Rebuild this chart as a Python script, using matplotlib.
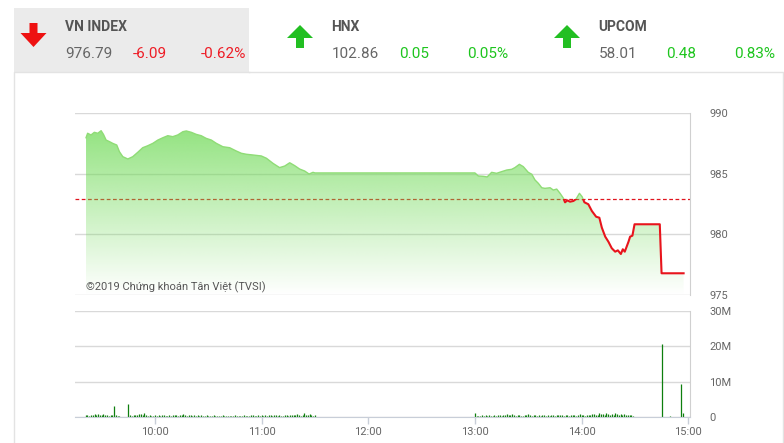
import numpy as np
import matplotlib.pyplot as plt
from matplotlib.patches import Rectangle, Polygon
from matplotlib.colors import to_rgb

plt.rcParams['font.family'] = ['Roboto', 'DejaVu Sans']

# --- bảng chỉ số phía trên ---
san = ['VN INDEX', 'HNX', 'UPCOM']
diem = ['976.79', '102.86', '58.01']
thay_doi = ['-6.09', '0.05', '0.48']
phan_tram = ['-0.62%', '0.05%', '0.83%']
tang_giam = [-1, 1, 1]

tham_chieu = 982.88

# --- diễn biến VN-Index (phút tính từ 9:00) ---
gio_gia = [21.2, 22.1, 24.0, 25.9, 27.8, 29.7, 31.0, 32.5, 34.4, 36.2,
           38.5, 40.0, 41.9, 44.7, 47.5, 50.3, 53.1, 55.9, 58.8, 61.6,
           64.4, 67.2, 70.0, 72.8, 75.7, 77.6, 80.4, 83.2, 86.0, 88.8,
           91.7, 94.5, 98.2, 102.0, 105.7, 108.6, 111.4, 115.1, 119.8, 122.7,
           126.4, 130.1, 133.0, 135.8, 138.6, 141.4, 144.2, 146.7, 148.9, 150.0,
           240.0, 241.9, 244.7, 246.9, 249.4, 252.2, 255.1, 257.9, 260.7, 262.5,
           265.0, 267.2, 270.0, 272.0, 273.8, 275.7, 277.6, 279.4, 282.3, 284.1,
           286.0, 287.9, 289.8, 290.7, 292.0, 293.5, 295.4, 296.9, 298.8, 300.3,
           301.6, 303.8, 305.8, 308.2, 310.0, 311.4, 313.3, 315.1, 317.0, 318.9,
           320.4, 322.1, 323.2, 324.3, 326.4, 327.3, 328.6, 329.8, 344.0, 345.0,
           357.4]
gia = [987.96, 988.33, 988.19, 988.41, 988.33, 988.54, 988.24, 987.77, 987.64, 987.50,
       987.36, 986.81, 986.40, 986.21, 986.40, 986.76, 987.14, 987.30, 987.50, 987.77,
       987.96, 988.13, 988.05, 988.19, 988.46, 988.52, 988.41, 988.24, 988.13, 987.91,
       987.77, 987.50, 987.22, 987.14, 986.87, 986.68, 986.60, 986.54, 986.46, 986.27,
       985.85, 985.50, 985.63, 985.90, 985.66, 985.38, 985.22, 984.97, 985.11, 985.06,
       985.06, 984.81, 984.78, 984.73, 985.11, 985.03, 985.17, 985.30, 985.36, 985.50,
       985.77, 985.58, 985.11, 984.95, 984.48, 984.20, 983.84, 983.79, 983.84, 983.65,
       983.73, 983.38, 982.97, 982.64, 982.80, 982.69, 982.75, 982.91, 983.38, 983.10,
       982.64, 982.48, 981.92, 981.45, 981.37, 980.55, 979.81, 979.39, 978.85, 978.57,
       978.68, 978.38, 978.77, 978.57, 979.39, 979.81, 979.89, 980.83, 980.83, 976.79,
       976.79]

# --- khối lượng (triệu cp) ---
gio_kl_sang = list(range(21, 151))
kl_sang = [0.5, 0.6, 0.4, 0.7, 0.6, 0.8, 0.5, 0.9, 0.7, 0.6, 0.8, 0.5, 0.6, 0.4, 0.7, 0.5, 3.0, 0.6, 0.4, 0.3,
           0, 0, 0, 0,
           3.6, 0.5, 0.4, 0.6, 0.7, 0.5, 0.8, 0.9, 0.6, 1.0, 0.5, 0.4, 0.6, 0.3, 0.4, 0.5,
           0.3, 0.5, 0.4, 0.6, 0.7, 0.4, 0.3, 0.5, 0.4, 0.6, 0.5, 0.7, 0.4, 0.5, 0.6, 0.8, 0.5, 0.4, 0.6, 0.5,
           0.4, 0.5, 0.3, 0.6, 0.4, 0.5, 0.3, 0.4, 0.5, 0.3, 0.4, 0.3, 0.5, 0.4, 0.3, 0.4, 0.3, 0.5, 0.3, 0.4,
           0.3, 0.4, 0.3, 0.3, 0.5, 0.4, 0.3, 0.4, 0.3, 0.5, 0.4, 0.3, 0.4, 0.5, 0.6, 0.4, 0.3, 0.5, 0.4, 0.6,
           0.4, 0.5, 0.3, 0.6, 0.5, 0.4, 0.5, 0.6, 0.4, 0.5, 0.3, 0.4, 0.5, 0.6, 0.4, 0.5, 0.7, 0.5, 0.6, 0.8,
           0.5, 0.4, 0.7, 1.0, 0.6, 0.5, 0.9, 0.7, 0.4, 0.5]
gio_kl_chieu = list(range(240, 330))
kl_chieu = [1.1, 0.3, 0.4, 0.3, 0.5, 0.4, 0.6, 0.4, 0.5, 0.3, 0.4, 0.5, 0.4, 0.6, 0.5, 0.4, 0.7, 0.5, 0.8, 0.6,
            0.5, 0.9, 0.6, 0.4, 0.5, 0.7, 0.4, 0.3, 0.5, 0.6, 0.8, 0.5, 0.4, 0.6, 0.5, 0.4, 0.5, 0.4, 0.6, 0.5,
            0.4, 0.5, 0.4, 0.6, 0.5, 0.4, 0.5, 0.6, 0.7, 0.5, 0.4, 0.6, 0.5, 0.4, 0.6, 0.7, 0.5, 0.4, 0.6, 0.8,
            0.5, 0.6, 0.4, 0.7, 0.6, 0.5, 0.8, 0.9, 0.7, 0.6, 1.0, 0.8, 0.9, 0.7, 1.1, 0.8, 0.6, 0.9, 0.7, 1.0,
            0.8, 0.6, 0.9, 0.7, 0.8, 0.6, 0.7, 0.5, 0.6, 0.4]
gio_kl_atc = [340, 345, 350, 354, 356, 357]
kl_atc = [0.1, 20.7, 0.3, 0.1, 9.2, 1.0]

nhan_gio = ['10:00', '11:00', '12:00', '13:00', '14:00', '15:00']
vi_tri_gio = [60, 120, 180, 240, 300, 360]

W, H = 784, 443
fig = plt.figure(figsize=(W / 100, H / 100), dpi=100)

# lớp nền theo toạ độ pixel
bg = fig.add_axes([0, 0, 1, 1], zorder=0)
bg.set_xlim(0, W)
bg.set_ylim(H, 0)
bg.axis('off')

bg.add_patch(Rectangle((14, 8), 235, 64, color='#ebebeb', lw=0))
bg.plot([14, 14, 249], [H, 72, 72], color='#e3e3e3', lw=1)
bg.plot([249, 783, 783], [72, 72, H], color='#e3e3e3', lw=1)

do = '#ee1c25'
xanh = '#1ec51e'
x_ten = [65, 331.5, 598.5]
x_tam_mui_ten = [33.5, 300, 567]
for i in range(3):
    cx = x_tam_mui_ten[i]
    if tang_giam[i] < 0:
        pts = [(cx - 4, 23), (cx + 4, 23), (cx + 4, 33), (cx + 13, 33), (cx, 47),
               (cx - 13, 33), (cx - 4, 33)]
        mau = '#ee1111'
    else:
        pts = [(cx - 4, 48), (cx + 4, 48), (cx + 4, 38), (cx + 13, 38), (cx, 25),
               (cx - 13, 38), (cx - 4, 38)]
        mau = '#22bf22'
    bg.add_patch(Polygon(pts, closed=True, color=mau, lw=0))
    mau_so = do if tang_giam[i] < 0 else xanh
    x0 = x_ten[i]
    bg.text(x0, 27, san[i], fontsize=10, fontweight='bold', color='#555555',
            va='center', ha='left')
    bg.text(x0, 54, diem[i], fontsize=11, color='#666666',
            va='center', ha='left')
    bg.text(x0 + 67.5, 54, thay_doi[i], fontsize=11, color=mau_so,
            va='center', ha='left')
    bg.text(x0 + 136, 54, phan_tram[i], fontsize=11, color=mau_so,
            va='center', ha='left')

# --- biểu đồ giá ---
ax = fig.add_axes([75 / W, 1 - 295 / H, 615 / W, 182 / H], zorder=1)
ax.patch.set_visible(False)
ax.set_xlim(15, 361)
ax.set_ylim(975, 990)

ax.axhline(tham_chieu, color='#e0141e', lw=0.9, ls=(0, (3, 2)), zorder=1)

vung = ax.fill_between(gio_gia, gia, 975, color='none', lw=0)
n = 256
anh = np.zeros((n, 2, 4))
anh[..., :3] = to_rgb('#6cd952')
anh[..., 3] = np.linspace(0.0, 0.8, n)[:, None]
im = ax.imshow(anh, extent=[15, 361, 975, 990], origin='lower', aspect='auto',
               zorder=2, interpolation='bilinear')
im.set_clip_path(vung.get_paths()[0], transform=ax.transData)

duong_do, = ax.plot(gio_gia, gia, color='#e8141c', lw=1.5, zorder=3)
duong_do.set_clip_path(Rectangle((15, 975), 346, tham_chieu - 975, transform=ax.transData))
duong_xanh, = ax.plot(gio_gia, gia, color='#8fdc76', lw=1, zorder=3)
duong_xanh.set_clip_path(Rectangle((15, tham_chieu), 346, 990 - tham_chieu, transform=ax.transData))

ax.set_yticks([975, 980, 985, 990])
ax.grid(axis='y', color='#d9d9d9', lw=1)
ax.set_axisbelow(True)
ax.set_xticks([])
for s in ['left', 'top', 'bottom']:
    ax.spines[s].set_visible(False)
ax.spines['right'].set_color('#d0d0d0')
ax.yaxis.tick_right()
ax.tick_params(axis='y', length=0, pad=14, labelsize=8, labelcolor='#666666')
ax.text(0.018, 0.045, '©2019 Chứng khoán Tân Việt (TVSI)', transform=ax.transAxes,
        fontsize=8, color='#555555', va='center', ha='left', zorder=4)

# --- biểu đồ khối lượng ---
av = fig.add_axes([75 / W, 1 - 417 / H, 615 / W, 106 / H], zorder=1)
av.patch.set_visible(False)
av.set_xlim(15, 361)
av.set_ylim(0, 30)
mau_kl = '#0e7f0e'
av.vlines(gio_kl_sang, 0, kl_sang, color=mau_kl, lw=0.9)
av.vlines(gio_kl_chieu, 0, kl_chieu, color=mau_kl, lw=0.9)
av.vlines(gio_kl_atc, 0, kl_atc, color=mau_kl, lw=0.9)
av.set_yticks([0, 10, 20, 30])
av.set_yticklabels(['0', '10M', '20M', '30M'])
av.set_xticks(vi_tri_gio)
av.set_xticklabels(nhan_gio)
av.grid(axis='y', color='#d9d9d9', lw=1)
av.set_axisbelow(True)
for s in ['left', 'top']:
    av.spines[s].set_visible(False)
av.spines['right'].set_color('#d0d0d0')
av.spines['bottom'].set_color('#c8ced8')
av.yaxis.tick_right()
av.tick_params(axis='y', length=0, pad=14, labelsize=8, labelcolor='#666666')
av.tick_params(axis='x', length=5, width=1, color='#c8ced8', pad=2, labelsize=8,
               labelcolor='#666666')

fig.savefig('out.png', dpi=100)
